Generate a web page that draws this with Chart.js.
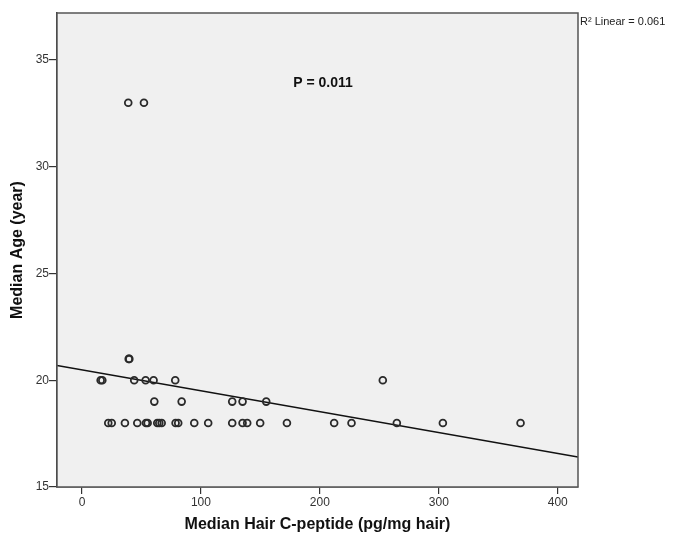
<!DOCTYPE html>
<html>
<head>
<meta charset="utf-8">
<script src="https://cdn.jsdelivr.net/npm/chart.js@4/dist/chart.umd.min.js"></script>
<style>
  html, body { margin: 0; padding: 0; background: #ffffff; }
  #wrap { width: 673px; height: 537px; }
</style>
</head>
<body>
<div id="wrap"><canvas id="c" width="673" height="537"></canvas></div>
<script>
// ---- data ----
const hairCpeptide = [
  22.1, 25.0, 36.1, 46.5, 53.8, 55.2, 63.3, 65.0, 67.0, 78.7, 80.9, 94.4, 106.1,
  126.3, 135.0, 138.9, 149.8, 172.3, 212.0, 226.6, 264.7, 303.4, 368.7,
  60.8, 83.8, 126.3, 135.0, 154.9,
  15.7, 17.1, 43.9, 53.5, 60.2, 78.4, 252.9,
  39.3, 39.8,
  38.9, 52.1
];
const medianAge = [
  18, 18, 18, 18, 18, 18, 18, 18, 18, 18, 18, 18, 18,
  18, 18, 18, 18, 18, 18, 18, 18, 18, 18,
  19, 19, 19, 19, 19,
  20, 20, 20, 20, 20, 20, 20,
  21, 21,
  33, 33
];
const fitX = [-21, 417];
const fitIntercept = 20.49;
const fitSlope = -0.0098;
const xTicks = [0, 100, 200, 300, 400];
const yTicks = [15, 20, 25, 30, 35];
const xTitle = 'Median Hair C-peptide (pg/mg hair)';
const yTitle = 'Median Age (year)';
const pLabel = 'P = 0.011';
const r2Label = 'R² Linear = 0.061';

const points = hairCpeptide.map((x, i) => ({ x: x, y: medianAge[i] }));
const fitLine = fitX.map(x => ({ x: x, y: fitIntercept + fitSlope * x }));

const FONT = "'Liberation Sans Narrow', 'Liberation Sans', Arial, sans-serif";
const FONT_B = "'Liberation Sans', Arial, sans-serif";

const decor = {
  id: 'decor',
  beforeDatasetsDraw(chart) {
    const { ctx, chartArea: a } = chart;
    ctx.save();
    ctx.fillStyle = '#f0f0f0';
    ctx.fillRect(a.left, a.top, a.right - a.left, a.bottom - a.top);
    ctx.restore();
  },
  afterDraw(chart) {
    const { ctx, chartArea: a } = chart;
    ctx.save();
    ctx.strokeStyle = '#555555';
    ctx.lineWidth = 1.5;
    ctx.strokeRect(a.left, a.top, a.right - a.left, a.bottom - a.top);
    ctx.fillStyle = '#111111';
    ctx.font = 'bold 14px ' + FONT_B;
    ctx.textAlign = 'center';
    ctx.textBaseline = 'middle';
    ctx.fillText(pLabel, 323, 83);
    ctx.font = '11px ' + FONT;
    ctx.textAlign = 'left';
    ctx.fillStyle = '#222222';
    ctx.fillText(r2Label, a.right + 2, 22);
    ctx.restore();
  }
};

new Chart(document.getElementById('c'), {
  type: 'scatter',
  data: {
    datasets: [
      {
        label: 'points',
        data: points,
        pointRadius: 3.4,
        pointHoverRadius: 3.4,
        pointBorderWidth: 1.8,
        borderColor: '#2a2a2a',
        backgroundColor: 'rgba(0,0,0,0)',
        showLine: false
      },
      {
        label: 'fit',
        type: 'line',
        data: fitLine,
        borderColor: '#111111',
        borderWidth: 1.5,
        pointRadius: 0,
        fill: false,
        tension: 0
      }
    ]
  },
  options: {
    responsive: false,
    animation: false,
    events: [],
    layout: { padding: { top: 13, right: 95, left: 0, bottom: 0 } },
    plugins: { legend: { display: false }, tooltip: { enabled: false } },
    scales: {
      x: {
        type: 'linear',
        min: -21,
        max: 417,
        afterBuildTicks(scale) { scale.ticks = xTicks.map(v => ({ value: v })); },
        afterFit(scale) { scale.height = 50; },
        grid: { display: true, drawOnChartArea: false, drawTicks: true, tickLength: 7, color: '#333333', lineWidth: 1.2 },
        border: { display: true, color: '#333333', width: 1.5 },
        ticks: { color: '#333333', padding: 1, font: { family: FONT, size: 12 } },
        title: { display: true, text: xTitle, color: '#111111', padding: { top: 4, bottom: 3 }, font: { family: FONT_B, size: 16, weight: 'bold' } }
      },
      y: {
        type: 'linear',
        min: 15,
        max: 37.2,
        afterBuildTicks(scale) { scale.ticks = yTicks.map(v => ({ value: v })); },
        afterFit(scale) { scale.width = 57; },
        grid: { display: true, drawOnChartArea: false, drawTicks: true, tickLength: 8, color: '#333333', lineWidth: 1.2 },
        border: { display: true, color: '#333333', width: 1.5 },
        ticks: { color: '#333333', padding: 0, font: { family: FONT, size: 12 } },
        title: { display: true, text: yTitle, color: '#111111', padding: { top: 8, bottom: 4 }, font: { family: FONT_B, size: 16, weight: 'bold' } }
      }
    }
  },
  plugins: [decor]
});
</script>
</body>
</html>
